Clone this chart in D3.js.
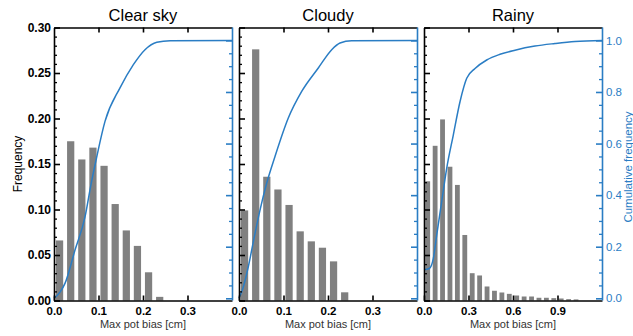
<!DOCTYPE html>
<html><head><meta charset="utf-8">
<script src="https://cdn.jsdelivr.net/npm/d3@7"></script>
<style>
body{margin:0;background:#fff}
svg{display:block}
text{font-family:"Liberation Sans",Arial,Helvetica,sans-serif}
</style>
</head><body>
<svg id="c" width="633" height="336"></svg>
<script>
// ---------- data ----------
const titles = ["Clear sky", "Cloudy", "Rainy"];
const binWidths = [0.025, 0.025, 0.05];
const xMaxes = [0.4, 0.4, 1.2];
const clearXTicks = [0.0, 0.1, 0.2, 0.3, 0.4];
const cloudyXTicks = [0.0, 0.1, 0.2, 0.3, 0.4];
const rainyXTicks = [0.0, 0.3, 0.6, 0.9, 1.2];
const freqTicks = [0.00, 0.05, 0.10, 0.15, 0.20, 0.25, 0.30];
const cumTicks = [0.0, 0.2, 0.4, 0.6, 0.8, 1.0];

const clearFreq = [0.066, 0.175, 0.155, 0.168, 0.148, 0.106, 0.077, 0.060, 0.031, 0.004];
const cloudyFreq = [0.099, 0.276, 0.136, 0.122, 0.105, 0.076, 0.065, 0.058, 0.043, 0.009];
const rainyFreq = [0.131, 0.170, 0.199, 0.147, 0.127, 0.072, 0.030, 0.0275, 0.0154, 0.0107,
                   0.0088, 0.0073, 0.0055, 0.0044, 0.0044, 0.0030, 0.0030, 0.0026, 0.0022, 0.0015, 0.0012];

const clearCumX = [0, 0.0135, 0.0247, 0.0472, 0.0697, 0.0831, 0.0955, 0.1146, 0.148, 0.178, 0.2045, 0.231, 0.261, 0.4];
const clearCumY = [0, 0.024, 0.058, 0.187, 0.316, 0.441, 0.544, 0.686, 0.815, 0.905, 0.964, 0.993, 0.999, 1.0];

const cloudyCumX = [0, 0.009, 0.0209, 0.036, 0.0472, 0.0622, 0.0809, 0.1108, 0.1409, 0.1782, 0.2083, 0.227, 0.253, 0.4];
const cloudyCumY = [0, 0.04, 0.1225, 0.252, 0.342, 0.446, 0.550, 0.699, 0.802, 0.893, 0.964, 0.99, 0.999, 1.0];

const rainyCumX = [0, 0.02, 0.04, 0.063, 0.0856, 0.119, 0.153, 0.1975, 0.2427, 0.288, 0.344, 0.4227, 0.5124, 0.6135, 0.748, 0.883, 1.018, 1.2];
const rainyCumY = [0.112, 0.113, 0.118, 0.155, 0.245, 0.374, 0.504, 0.633, 0.762, 0.853, 0.891, 0.924, 0.946, 0.962, 0.978, 0.988, 0.996, 1.0];

// ---------- layout ----------
const BLUE = "#2a7dc4";
const GRAY = "#808080";
const panelLefts = [54, 239, 424];
const panelW = 178;
const plotTop = 27.5, plotBottom = 300.5;

const svg = d3.select("#c");
const yFreq = d3.scaleLinear().domain([0, 0.3]).range([plotBottom, plotTop]);
const yCum = d3.scaleLinear().domain([-0.0085, 1.05]).range([plotBottom, plotTop]);

const freqs = [clearFreq, cloudyFreq, rainyFreq];
const cumXs = [clearCumX, cloudyCumX, rainyCumX];
const cumYs = [clearCumY, cloudyCumY, rainyCumY];
const xTickSets = [clearXTicks, cloudyXTicks, rainyXTicks];

const freqMinor = d3.range(0, 0.3001, 0.01).filter(v => Math.abs(v / 0.05 - Math.round(v / 0.05)) > 1e-6);
const cumMinor = d3.range(0, 1.0001, 0.05).filter(v => Math.abs(v / 0.2 - Math.round(v / 0.2)) > 1e-6);

function styleAxis(g, color, sw) {
  g.attr("font-family", null).attr("font-size", null);
  g.selectAll(".domain").attr("stroke", color).attr("stroke-width", sw);
  g.selectAll(".tick line").attr("stroke", color).attr("stroke-width", sw);
  g.selectAll(".tick text").attr("fill", color);
}

titles.forEach((title, i) => {
  const g = svg.append("g").attr("transform", `translate(${panelLefts[i]},0)`);
  const x = d3.scaleLinear().domain([0, xMaxes[i]]).range([0, panelW]);
  const bw = binWidths[i];
  const barW = (x(bw) - x(0)) * 0.65;

  // bars
  g.selectAll("rect.bar").data(freqs[i]).join("rect")
    .attr("class", "bar")
    .attr("x", (d, k) => x(k * bw + bw / 2) - barW / 2)
    .attr("width", barW)
    .attr("y", d => yFreq(d))
    .attr("height", d => yFreq(0) - yFreq(d))
    .attr("fill", GRAY);

  // cumulative curve
  const pts = cumXs[i].map((v, k) => [v, cumYs[i][k]]);
  g.append("path").datum(pts)
    .attr("fill", "none").attr("stroke", BLUE).attr("stroke-width", 1.5)
    .attr("d", d3.line().x(d => x(d[0])).y(d => yCum(d[1])).curve(d3.curveMonotoneX));

  // bottom axis
  const ticks = xTickSets[i];
  const bAx = g.append("g").attr("transform", `translate(0,${plotBottom})`)
    .call(d3.axisBottom(x).tickValues(ticks.slice(0, -1)).tickSizeInner(-5).tickSizeOuter(0).tickPadding(6)
      .tickFormat(d3.format(".1f")));
  styleAxis(bAx, "#000", 1.6);
  bAx.selectAll(".tick text").attr("font-size", 11.5).attr("font-weight", "bold");

  // top axis
  const tAx = g.append("g").attr("transform", `translate(0,${plotTop})`)
    .call(d3.axisTop(x).tickValues(ticks.slice(1, -1)).tickSizeInner(-5).tickSizeOuter(0).tickFormat(""));
  styleAxis(tAx, "#000", 1.6);

  // left axis
  const lAx = g.append("g")
    .call(d3.axisLeft(yFreq).tickValues(freqTicks).tickSizeInner(-6).tickSizeOuter(0).tickPadding(3)
      .tickFormat(i === 0 ? d3.format(".2f") : ""));
  styleAxis(lAx, "#000", 1.6);
  lAx.selectAll(".tick text").attr("font-size", 12).attr("font-weight", "bold");
  const lMin = g.append("g")
    .call(d3.axisLeft(yFreq).tickValues(freqMinor).tickSizeInner(-3).tickSizeOuter(0).tickFormat(""));
  styleAxis(lMin, "#000", 1.3);
  lMin.select(".domain").remove();

  // right axis (cumulative)
  const rAx = g.append("g").attr("transform", `translate(${panelW},0)`)
    .call(d3.axisRight(yCum).tickValues(cumTicks).tickSizeInner(-6).tickSizeOuter(0).tickPadding(4)
      .tickFormat(i === 2 ? d3.format(".1f") : ""));
  styleAxis(rAx, BLUE, 1.6);
  rAx.select(".domain").attr("d", `M0.5,${plotBottom}V${plotTop}`);
  rAx.selectAll(".tick text").attr("font-size", 11.5);
  const rMin = g.append("g").attr("transform", `translate(${panelW},0)`)
    .call(d3.axisRight(yCum).tickValues(cumMinor).tickSizeInner(-3).tickSizeOuter(0).tickFormat(""));
  styleAxis(rMin, BLUE, 1.3);
  rMin.select(".domain").remove();

  // title
  g.append("text").attr("x", panelW / 2).attr("y", 21.3).attr("text-anchor", "middle")
    .attr("font-size", 16.5).attr("fill", "#000").text(title);

  // x label
  g.append("text").attr("x", panelW / 2).attr("y", 327.5).attr("text-anchor", "middle")
    .attr("font-size", 11).attr("fill", "#333").text("Max pot bias [cm]");
});

// y labels
svg.append("text").attr("transform", "translate(21.5,164) rotate(-90)")
  .attr("text-anchor", "middle").attr("font-size", 12).attr("fill", "#000").text("Frequency");
svg.append("text").attr("transform", "translate(632,167) rotate(-90)")
  .attr("text-anchor", "middle").attr("font-size", 11.5).attr("fill", BLUE).text("Cumulative frequency");
</script>
</body></html>
